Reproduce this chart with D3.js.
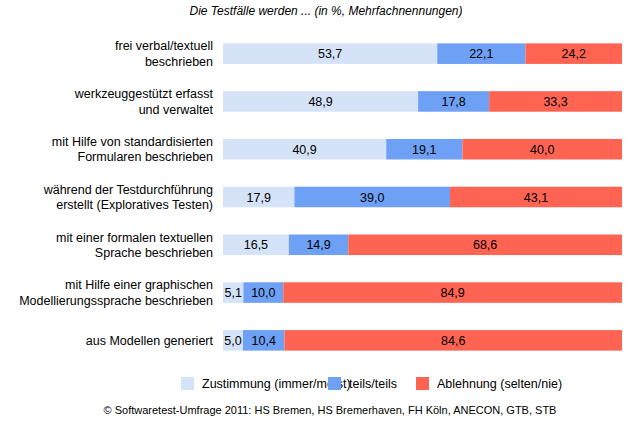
<!DOCTYPE html>
<html><head><meta charset="utf-8">
<script src="https://cdn.jsdelivr.net/npm/d3@7"></script>
<style>body{margin:0;background:#fff}text{font-family:Arial,"Liberation Sans",sans-serif;fill:#000}</style>
</head><body>
<svg id="c" width="640" height="429"></svg>
<script>
var categories = [
  ['frei verbal/textuell', 'beschrieben'],
  ['werkzeuggestützt erfasst', 'und verwaltet'],
  ['mit Hilfe von standardisierten', 'Formularen beschrieben'],
  ['während der Testdurchführung', 'erstellt (Exploratives Testen)'],
  ['mit einer formalen textuellen', 'Sprache beschrieben'],
  ['mit Hilfe einer graphischen', 'Modellierungssprache beschrieben'],
  ['aus Modellen generiert']
]
var zustimmung = [53.7, 48.9, 40.9, 17.9, 16.5, 5.1, 5.0]
  , teils      = [22.1, 17.8, 19.1, 39.0, 14.9, 10.0, 10.4]
  , ablehnung  = [24.2, 33.3, 40.0, 43.1, 68.6, 84.9, 84.6]
var seriesNames = ['Zustimmung (immer/meist)', 'teils/teils', 'Ablehnung (selten/nie)']
  , colors = ['#d5e3f8', '#6ea0f5', '#ff6352']

var svg = d3.select('#c')
  , x = d3.scaleLinear().domain([0, 100]).range([223, 622])
  , y = d3.scaleBand().domain(d3.range(categories.length)).range([30, 364]).paddingInner(0.57).paddingOuter(0.28)

svg.append('text').attr('x', 326).attr('y', 15).attr('text-anchor', 'middle')
  .style('font-size', '12px').style('font-style', 'italic')
  .text('Die Testfälle werden ... (in %, Mehrfachnennungen)')

var stack = d3.stack().keys([0, 1, 2])(categories.map(function(c, i){
  return [zustimmung[i], teils[i], ablehnung[i]]
}))

stack.forEach(function(s, k){
  var g = svg.append('g')
  g.selectAll('rect').data(s).enter().append('rect')
    .attr('x', function(d){ return x(d[0]) })
    .attr('width', function(d){ return x(d[1]) - x(d[0]) })
    .attr('y', function(d, i){ return y(i) })
    .attr('height', y.bandwidth())
    .attr('fill', colors[k])
  g.selectAll('text').data(s).enter().append('text')
    .attr('x', function(d){ return (x(d[0]) + x(d[1])) / 2 })
    .attr('y', function(d, i){ return y(i) + y.bandwidth() / 2 + 4.5 })
    .attr('text-anchor', 'middle').style('font-size', '12.5px')
    .text(function(d){ return d3.format('.1f')(d[1] - d[0]).replace('.', ',') })
})

categories.forEach(function(lines, i){
  var cy = y(i) + y.bandwidth() / 2
    , t = svg.append('text').attr('text-anchor', 'end').style('font-size', '12.5px')
  lines.forEach(function(l, j){
    t.append('tspan').attr('x', 213)
      .attr('y', cy + 4.5 + (j - (lines.length - 1) / 2) * 15.5).text(l)
  })
})

var lx = [181, 328, 416]
seriesNames.forEach(function(n, k){
  svg.append('rect').attr('x', lx[k]).attr('y', 377).attr('width', 13).attr('height', 13)
    .attr('fill', colors[k])
  svg.append('text').attr('x', lx[k] + 21).attr('y', 388).style('font-size', '12.5px').text(n)
})

svg.append('text').attr('x', 330).attr('y', 414).attr('text-anchor', 'middle')
  .style('font-size', '11px')
  .text('© Softwaretest-Umfrage 2011: HS Bremen, HS Bremerhaven, FH Köln, ANECON, GTB, STB')
</script>
</body></html>
